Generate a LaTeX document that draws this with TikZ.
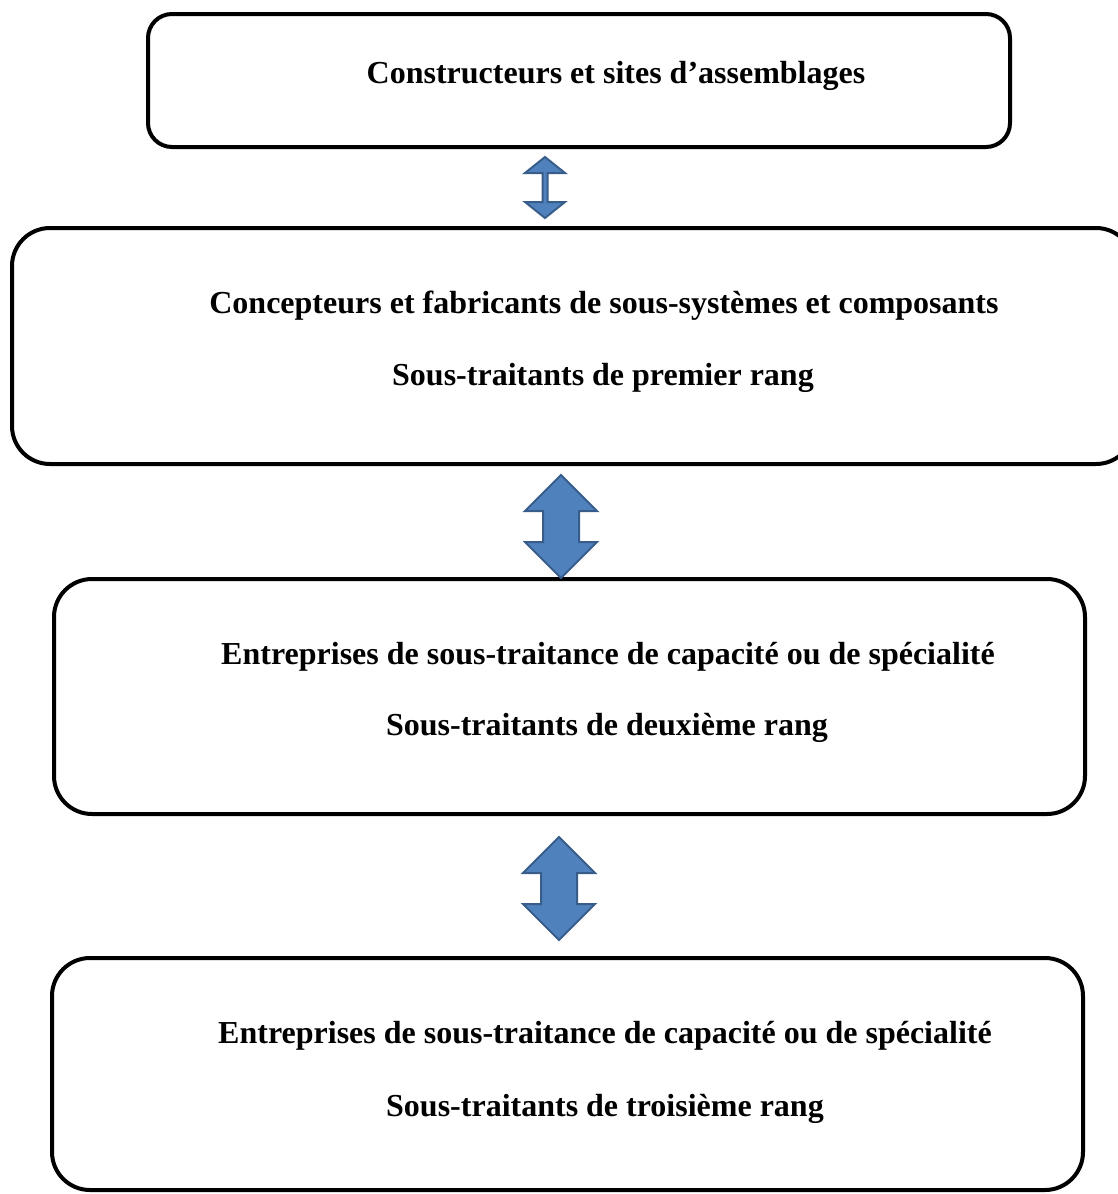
\documentclass[tikz,border=0pt]{standalone}
\usepackage{fontspec}
\setmainfont{Liberation Serif}
\definecolor{arrfill}{HTML}{4F81BD}
\definecolor{arrdraw}{HTML}{385D8A}
\newcommand\udarr[7]{% name, cx, top, bottom, headhalf, headdepth, shafthalf
  \coordinate (#1) at (#2,{(#3+#4)/2});
  \draw[arrowstyle] (#2,#3) -- ({#2+#5},{#3+#6}) -- ({#2+#7},{#3+#6}) -- ({#2+#7},{#4-#6}) -- ({#2+#5},{#4-#6})
    -- (#2,#4) -- ({#2-#5},{#4-#6}) -- ({#2-#7},{#4-#6}) -- ({#2-#7},{#3+#6}) -- ({#2-#5},{#3+#6}) -- cycle;
}
\begin{document}
\begin{tikzpicture}[x=1pt,y=-1pt,
  box/.style={draw=black, line width=4pt, inner sep=0pt, rounded corners=#1},
  box/.default=38pt,
  lbl/.style={anchor=base, inner sep=0pt, font=\fontsize{32}{38}\selectfont\bfseries},
  arrowstyle/.style={fill=arrfill, draw=arrdraw, line width=2pt, line join=miter}]
\useasboundingbox (0,0) rectangle (1118,1194);
\node[box=24pt, minimum width=862pt, minimum height=133pt] (b1) at (579,80.5) {};
\node[box, minimum width=1122pt, minimum height=236pt] (b2) at (573,346) {};
\node[box, minimum width=1031pt, minimum height=235pt] (b3) at (569.5,696.5) {};
\node[box, minimum width=1031pt, minimum height=232pt] (b4) at (567.5,1074) {};

\node[lbl] (t1) at (616,83) {Constructeurs et sites d’assemblages};
\node[lbl] (t2a) at (604,313) {Concepteurs et fabricants de sous-systèmes et composants};
\node[lbl] (t2b) at (603,385) {Sous-traitants de premier rang};
\node[lbl] (t3a) at (608,664) {Entreprises de sous-traitance de capacité ou de spécialité};
\node[lbl] (t3b) at (607,735) {Sous-traitants de deuxième rang};
\node[lbl] (t4a) at (605,1043) {Entreprises de sous-traitance de capacité ou de spécialité};
\node[lbl] (t4b) at (605,1116) {Sous-traitants de troisième rang};

\udarr{a1}{545}{157}{218}{20}{16}{2.5}
\udarr{a2}{561}{475}{578}{36}{36}{18}
\udarr{a3}{559}{837}{940}{36}{36}{18}
\end{tikzpicture}
\end{document}
